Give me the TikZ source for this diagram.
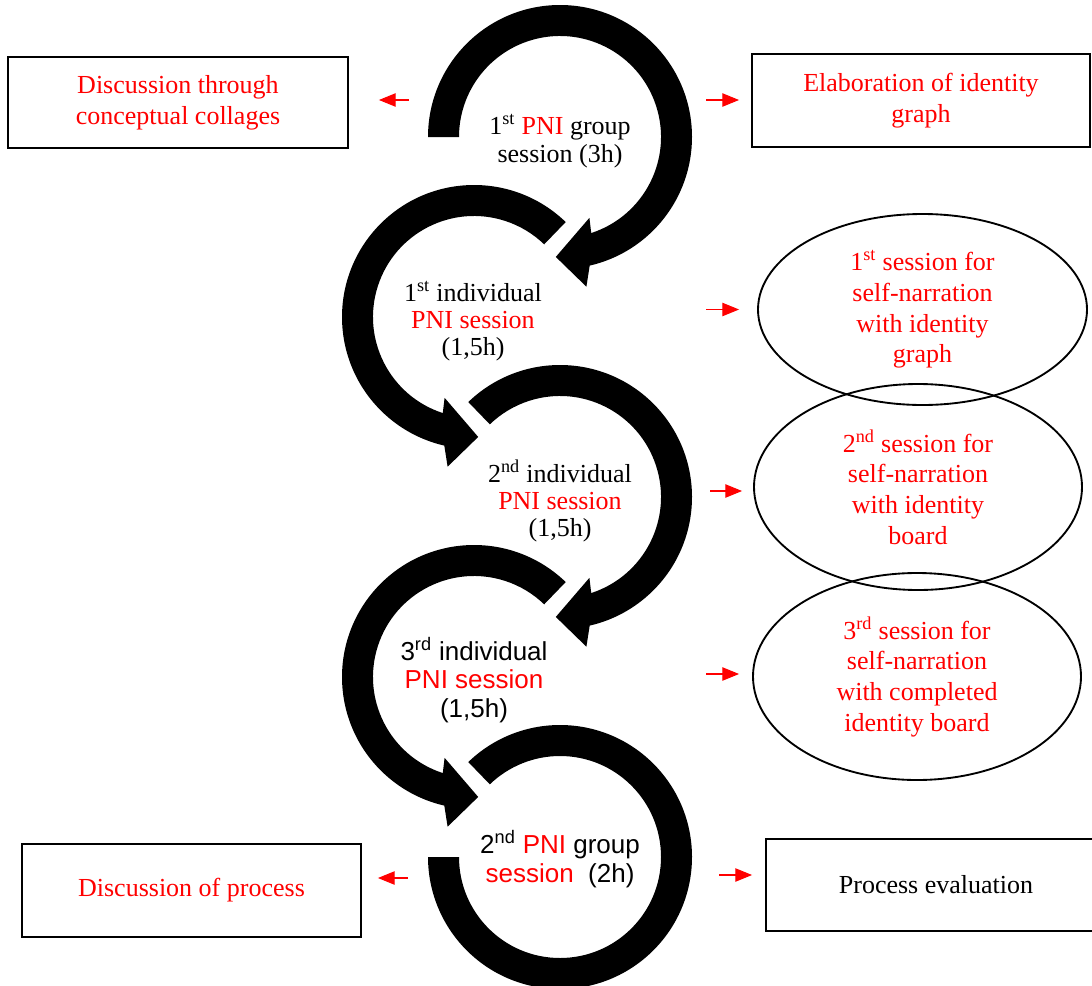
\documentclass[tikz,border=0pt]{standalone}
\usepackage{fontspec}
\setmainfont{Liberation Serif}
\setsansfont{Liberation Sans}
\usetikzlibrary{shapes.geometric,arrows.meta}
\tikzset{every picture/.style={line width=0.75pt}}

\begin{document}
\begin{tikzpicture}[x=0.75pt,y=0.75pt,yscale=-1,xscale=1,
	sessbox/.style={draw,line width=1.4pt,inner sep=0pt,align=center,font=\fontsize{19.5}{23}\selectfont},
	sessell/.style={draw,ellipse,line width=1.4pt,inner sep=0pt,align=center,text=red,font=\fontsize{19.5}{23}\selectfont},
	steptxt/.style={inner sep=0pt,align=center,font=\fontsize{19.5}{20.5}\selectfont},
	stepsans/.style={steptxt,font=\sffamily\fontsize{19.5}{21.5}\selectfont},
	sidearr/.style={red,line width=0.8pt,-{Triangle[length=12.5pt,width=10pt]}},
	ring/.style={fill=black,draw=none}]
	\useasboundingbox (0,0) rectangle (1092,985);

	\coordinate (c1) at (560,137);
	\coordinate (c2) at (474,317);
	\coordinate (c3) at (560,497);
	\coordinate (c4) at (474,677);
	\coordinate (c5) at (560,857);

	%Shape: Circular Arrow [1st group session]
	\fill[ring] ([shift={(180:132)}]c1) arc[start angle=180,end angle=437,radius=132] -- ([shift={(80:152)}]c1) -- ([shift={(92:120)}]c1) -- ([shift={(70:86)}]c1) -- ([shift={(432:101)}]c1) arc[start angle=432,end angle=180,radius=101] -- cycle;
	%Shape: Circular Arrow [1st individual session]
	\fill[ring] ([shift={(314:132)}]c2) arc[start angle=314,end angle=103,radius=132] -- ([shift={(100:152)}]c2) -- ([shift={(88:120)}]c2) -- ([shift={(110:86)}]c2) -- ([shift={(108:101)}]c2) arc[start angle=108,end angle=314,radius=101] -- cycle;
	%Shape: Circular Arrow [2nd individual session]
	\fill[ring] ([shift={(226:132)}]c3) arc[start angle=226,end angle=437,radius=132] -- ([shift={(80:152)}]c3) -- ([shift={(92:120)}]c3) -- ([shift={(70:86)}]c3) -- ([shift={(432:101)}]c3) arc[start angle=432,end angle=226,radius=101] -- cycle;
	%Shape: Circular Arrow [3rd individual session]
	\fill[ring] ([shift={(314:132)}]c4) arc[start angle=314,end angle=103,radius=132] -- ([shift={(100:152)}]c4) -- ([shift={(88:120)}]c4) -- ([shift={(110:86)}]c4) -- ([shift={(108:101)}]c4) arc[start angle=108,end angle=314,radius=101] -- cycle;
	%Shape: Circular Arrow [2nd group session]
	\fill[ring] ([shift={(226:132)}]c5) arc[start angle=226,end angle=540,radius=132] -- ([shift={(180:101)}]c5) arc[start angle=540,end angle=226,radius=101] -- cycle;

	% Text Node
	\node[steptxt] (grpone) at (560,141) {1\textsuperscript{st} \textcolor{red}{PNI} group\\session (3h)};
	% Text Node
	\node[steptxt] (indone) at (473,321) {1\textsuperscript{st} individual\\\textcolor{red}{PNI session}\\(1,5h)};
	% Text Node
	\node[steptxt] (indtwo) at (560,501) {2\textsuperscript{nd} individual\\\textcolor{red}{PNI session}\\(1,5h)};
	% Text Node
	\node[stepsans] (indthree) at (474,680) {3\textsuperscript{rd} individual\\\textcolor{red}{PNI session}\\(1,5h)};
	% Text Node
	\node[stepsans] (grptwo) at (560,859) {2\textsuperscript{nd} \textcolor{red}{PNI} group\\\textcolor{red}{session}\ \ (2h)};

	%Shape: Rectangle
	\node[sessbox,text=red,minimum width=255pt,minimum height=68.25pt] (collage) at (178,102.5) {Discussion through\\conceptual collages};
	%Shape: Rectangle
	\node[sessbox,text=red,minimum width=253.5pt,minimum height=69.75pt] (idgraph) at (921,100.5) {Elaboration of identity\\graph};
	%Shape: Ellipse
	\node[sessell,minimum width=246.75pt,minimum height=143.25pt] (narrone) at (922.5,309.5) {1\textsuperscript{st} session for\\self-narration\\with identity\\graph};
	%Shape: Ellipse
	\node[sessell,minimum width=246pt,minimum height=154.5pt] (narrtwo) at (918,487) {2\textsuperscript{nd} session for\\self-narration\\with identity\\board};
	%Shape: Ellipse
	\node[sessell,minimum width=246pt,minimum height=155.25pt] (narrthree) at (917,676.5) {3\textsuperscript{rd} session for\\self-narration\\with completed\\identity board};
	%Shape: Rectangle
	\node[sessbox,text=red,minimum width=254.25pt,minimum height=69.75pt] (discproc) at (191.5,890.5) {Discussion of process};
	%Shape: Rectangle
	\node[sessbox,minimum width=255pt,minimum height=69pt] (evalproc) at (936,885) {Process evaluation};

	%Straight Lines
	\draw[sidearr] ([shift={(60,-2.5)}]collage.east) -- ([shift={(30,-2.5)}]collage.east);
	\draw[sidearr] ([shift={(-45,-0.5)}]idgraph.west) -- ([shift={(-12,-0.5)}]idgraph.west);
	\draw[sidearr] ([shift={(-51,0)}]narrone.west) -- ([shift={(-18,0)}]narrone.west);
	\draw[sidearr] ([shift={(-43,4)}]narrtwo.west) -- ([shift={(-11,4)}]narrtwo.west);
	\draw[sidearr] ([shift={(-46,-2.5)}]narrthree.west) -- ([shift={(-13,-2.5)}]narrthree.west);
	\draw[sidearr] ([shift={(-46,-10)}]evalproc.west) -- ([shift={(-13,-10)}]evalproc.west);
	\draw[sidearr] ([shift={(46,-12.5)}]discproc.east) -- ([shift={(16,-12.5)}]discproc.east);

\end{tikzpicture}
\end{document}
